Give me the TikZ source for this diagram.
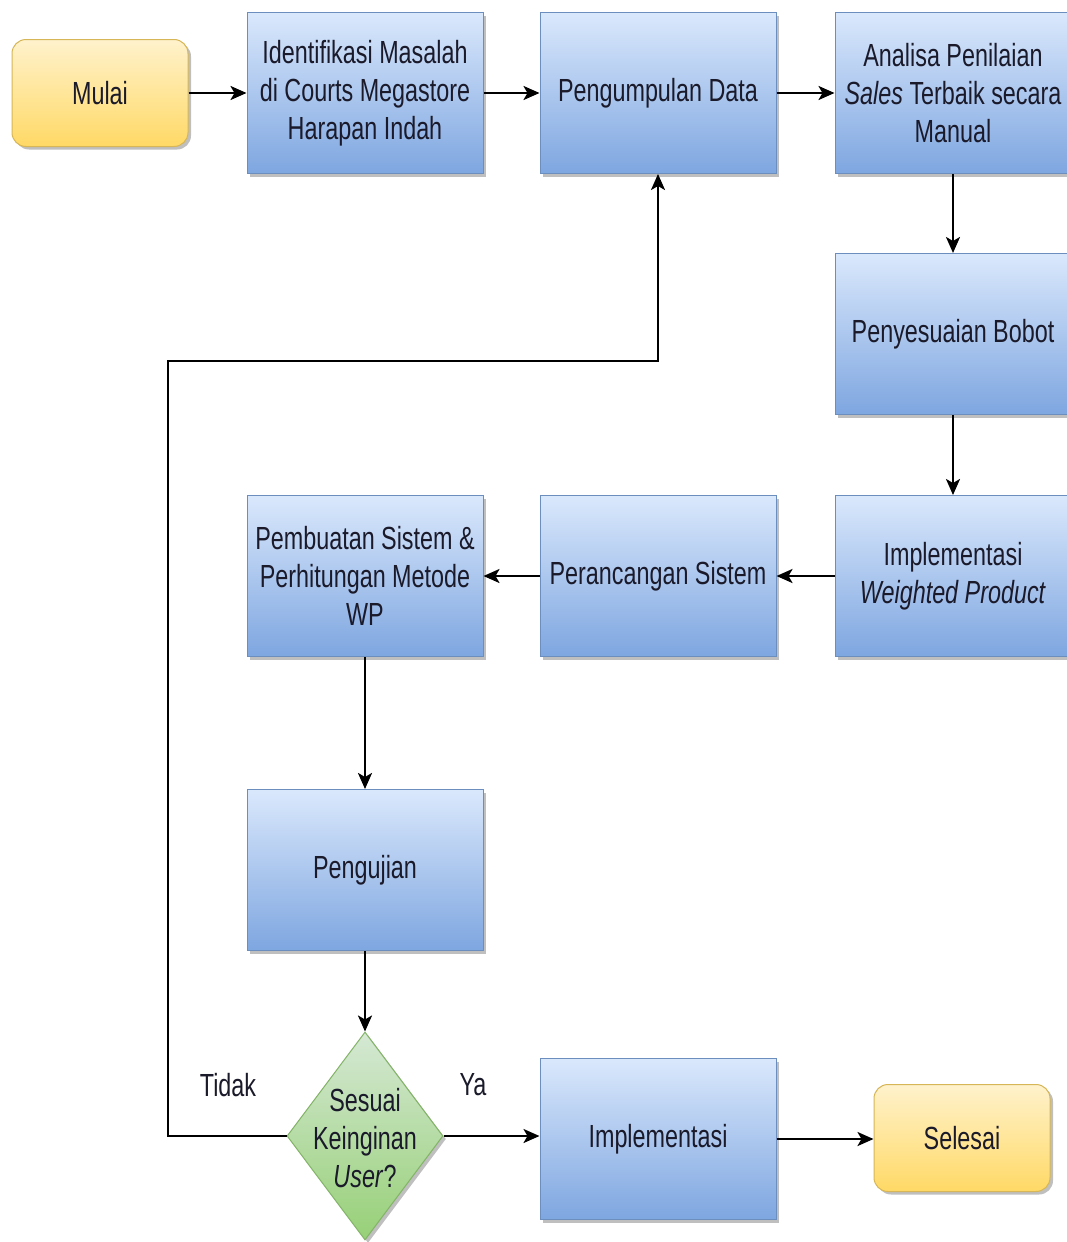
\documentclass[tikz,border=0pt]{standalone}
\usepackage{fontspec}
\setmainfont{Liberation Sans}[FakeStretch=0.73]
\usetikzlibrary{shapes.geometric,arrows.meta,shadows}
\definecolor{bluetop}{HTML}{DAE8FC}
\definecolor{bluebot}{HTML}{7EA6E0}
\definecolor{blueline}{HTML}{6C8EBF}
\definecolor{yeltop}{HTML}{FFF2CC}
\definecolor{yelbot}{HTML}{FFD966}
\definecolor{yelline}{HTML}{D6B656}
\definecolor{grntop}{HTML}{D5E8D4}
\definecolor{grnbot}{HTML}{97D077}
\definecolor{grnline}{HTML}{82B366}
\definecolor{txt}{HTML}{1A1A2A}
\tikzset{
  base/.style={font=\fontsize{32}{38}\selectfont, text=txt, align=center, line width=1pt,
    drop shadow={shadow xshift=3pt, shadow yshift=-3pt, opacity=0.25, fill=black}},
  procbox/.style={base, rectangle, draw=blueline, top color=bluetop, bottom color=bluebot,
    minimum width=236pt, minimum height=161pt, inner sep=0pt},
  termbox/.style={base, rectangle, rounded corners=14pt, draw=yelline, top color=yeltop, bottom color=yelbot,
    minimum width=176pt, minimum height=107pt, inner sep=0pt},
  decbox/.style={base, diamond, draw=grnline, top color=grntop, bottom color=grnbot,
    minimum width=156pt, minimum height=208pt, inner sep=0pt},
  conn/.style={line width=2.5pt, black, -{Stealth[length=16pt,width=14pt,inset=4pt]}},
  lbl/.style={font=\fontsize{32}{38}\selectfont, text=txt}
}
\begin{document}
\begin{tikzpicture}[x=1pt,y=-1pt]
\useasboundingbox[fill=white] (0,0) rectangle (1067,1242);
\node[termbox] (mulai) at (100,93) {Mulai};
\node[procbox] (ident) at (365,93) {Identifikasi Masalah\\di Courts Megastore\\Harapan Indah};
\node[procbox] (kumpul) at (658,93) {Pengumpulan Data};
\node[procbox] (analisa) at (953,93) {Analisa Penilaian\\\textit{Sales} Terbaik secara\\Manual};
\node[procbox] (bobot) at (953,334) {Penyesuaian Bobot};
\node[procbox] (implwp) at (953,576) {Implementasi\\\textit{Weighted Product}};
\node[procbox] (rancang) at (658,576) {Perancangan Sistem};
\node[procbox] (buat) at (365,576) {Pembuatan Sistem \&\\Perhitungan Metode\\WP};
\node[procbox] (uji) at (365,870) {Pengujian};
\node[decbox] (sesuai) at (365,1136) {};
\node[lbl, align=center] (sesuaitxt) at (365,1138) {Sesuai\\Keinginan\\\textit{User}?};
\node[procbox] (impl) at (658,1139) {Implementasi};
\node[termbox] (selesai) at (962,1138) {Selesai};
\node[lbl] (tidak) at (228,1085) {Tidak};
\node[lbl] (ya) at (473,1085) {Ya};
\coordinate (lp1) at (168,1136);
\coordinate (lp2) at (168,361);
\coordinate (lp3) at (658,361);

\draw[conn] (mulai) -- (ident);
\draw[conn] (ident) -- (kumpul);
\draw[conn] (kumpul) -- (analisa);
\draw[conn] (analisa) -- (bobot);
\draw[conn] (bobot) -- (implwp);
\draw[conn] (implwp) -- (rancang);
\draw[conn] (rancang) -- (buat);
\draw[conn] (buat) -- (uji);
\draw[conn] (uji) -- (sesuai);
\draw[conn] (sesuai.east) -- (sesuai.east -| impl.west);
\draw[conn] (impl) -- (selesai.west |- impl);
\draw[conn] (sesuai.west) -- (lp1) -- (lp2) -- (lp3) -- (kumpul.south);
\end{tikzpicture}
\end{document}
